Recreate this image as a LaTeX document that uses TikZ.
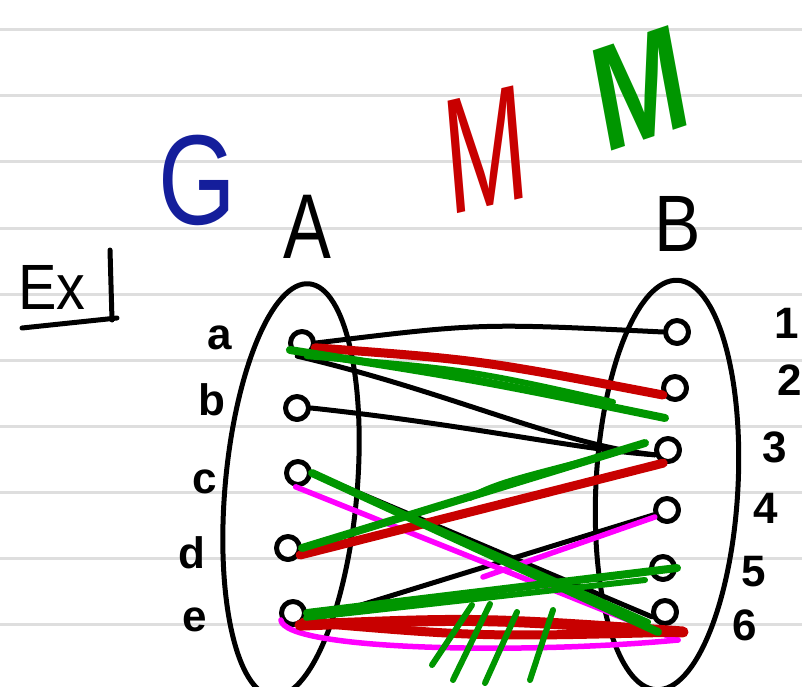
\documentclass[tikz,border=0pt]{standalone}
\usepackage{fontspec}
\setmainfont{Liberation Sans}
\definecolor{penblue}{RGB}{20,30,155}
\definecolor{penred}{RGB}{200,0,0}
\definecolor{pengreen}{RGB}{0,150,0}
\definecolor{penpink}{RGB}{255,0,255}
\definecolor{ruling}{RGB}{222,222,222}

\begin{document}
\begin{tikzpicture}[x=1pt,y=-1pt,line cap=round,line join=round,
  vtx/.style={circle,draw,line width=5pt,minimum size=23pt,inner sep=0pt},
  lbl/.style={font=\bfseries\fontsize{44}{44}\selectfont,inner sep=0pt},
  set/.style={line width=5pt},
  blk/.style={line width=5pt},
  redpen/.style={penred,line width=9pt},
  greenpen/.style={pengreen,line width=8pt},
  pinkpen/.style={penpink,line width=5.5pt}]

\useasboundingbox (0,0) rectangle (802,687);
\clip (0,0) rectangle (802,687);

% ruled paper
\foreach \yy in {30,96,...,690}
  \draw[ruling,line width=3pt] (0,\yy) -- (802,\yy);

% heading
\node[inner sep=0pt,font=\fontsize{64}{64}\selectfont,xscale=0.9] (ex) at (52,287) {Ex};
\draw[line width=5pt] (110,250) -- (112,320);
\draw[line width=5pt] (22,328) -- (117,318);

\node[inner sep=0pt,penblue,font=\fontsize{128}{128}\selectfont,xscale=0.78] (G) at (197,180) {G};
\node[inner sep=0pt,font=\fontsize{92}{92}\selectfont,xscale=0.78] (A) at (307,227) {A};
\node[inner sep=0pt,font=\fontsize{80}{80}\selectfont,xscale=0.87] (B) at (678,224) {B};
\node[inner sep=0pt,penred,font=\fontsize{165}{165}\selectfont,xscale=0.6,rotate=8] (Mr) at (486,150) {M};
\node[inner sep=0pt,pengreen,font=\bfseries\fontsize{150}{150}\selectfont,xscale=0.74,rotate=14] (Mg) at (640,88) {M};

% the two vertex sets
\draw[set,rotate around={-5:(291,490)}] (291,490) ellipse [x radius=66,y radius=207];
\draw[set,rotate around={-3:(667,485)}] (667,485) ellipse [x radius=71,y radius=205];

% vertices of A
\node[vtx] (a) at (302,343) {};
\node[vtx] (b) at (297,408) {};
\node[vtx] (c) at (298,473) {};
\node[vtx] (d) at (288,548) {};
\node[vtx] (e) at (293,613) {};
% vertices of B
\node[vtx] (v1) at (677,332) {};
\node[vtx] (v2) at (675,388) {};
\node[vtx] (v3) at (668,450) {};
\node[vtx] (v4) at (667,510) {};
\node[vtx] (v5) at (663,568) {};
\node[vtx] (v6) at (665,612) {};

% labels
\node[lbl] (la) at (220,338) {a};
\node[lbl] (lb) at (212,400) {b};
\node[lbl] (lc) at (205,482) {c};
\node[lbl] (ld) at (192,553) {d};
\node[lbl] (le) at (195,620) {e};
\node[lbl] (l1) at (787,323) {1};
\node[lbl] (l2) at (790,380) {2};
\node[lbl] (l3) at (775,447) {3};
\node[lbl] (l4) at (766,508) {4};
\node[lbl] (l5) at (754,572) {5};
\node[lbl] (l6) at (745,625) {6};

% free ends of some strokes
\coordinate (m6) at (678,640);
\coordinate (m4) at (483,577);
\coordinate (r6) at (683,632);
\coordinate (g2) at (665,418);
\coordinate (g2b) at (613,402);
\coordinate (g6) at (658,632);
\coordinate (g6b) at (648,622);
\coordinate (g3) at (645,443);
\coordinate (g3b) at (470,498);
\coordinate (g5) at (645,580);

% edges of the graph
\draw[blk] (a.east) .. controls (480,323) .. (v1.west);
\draw[blk] (a.-110) .. controls (450,392) and (560,445) .. (v3.200);
\draw[blk] (b.east) .. controls (470,425) and (580,450) .. (v3.200);
\draw[blk] (c.east) -- (v6.200);
\draw[blk] (e.-45) -- (v4.200);

% alternating path
\draw[pinkpen] (c.-100) -- (m6);
\draw[pinkpen] (e.-150) .. controls (285,650) and (520,655) .. (m6);
\draw[pinkpen] (m4) -- (v4.-150);

% matching M (red)
\draw[redpen] (a.-20) .. controls (480,360) .. (v2.-150);
\draw[redpen] (d.-30) -- (v3.-110);
\draw[redpen,line width=11pt] (e.-60) .. controls (480,618) .. (r6);
\draw[redpen] (e.-40) .. controls (480,637) .. (r6);

% matching M (green)
\draw[greenpen] (a.-150) .. controls (480,380) .. (g2);
\draw[greenpen,line width=6pt] (a.-70) .. controls (470,370) .. (g2b);
\draw[greenpen] (c.east) -- (g6);
\draw[greenpen,line width=6pt] (c.east) -- (g6b);
\draw[greenpen] (d.east) -- (g3);
\draw[greenpen,line width=6pt] (g3b) .. controls (500,478) and (570,468) .. (g3);
\draw[greenpen] (e.east) -- (v5.east);
\draw[greenpen,line width=6pt] (e.-20) -- (g5);

% strike marks across e--6
\draw[greenpen,line width=6pt] (472,605) -- (432,665);
\draw[greenpen,line width=6pt] (490,604) -- (453,680);
\draw[greenpen,line width=6pt] (517,612) -- (485,683);
\draw[greenpen,line width=6pt] (553,610) -- (530,680);
\end{tikzpicture}
\end{document}
